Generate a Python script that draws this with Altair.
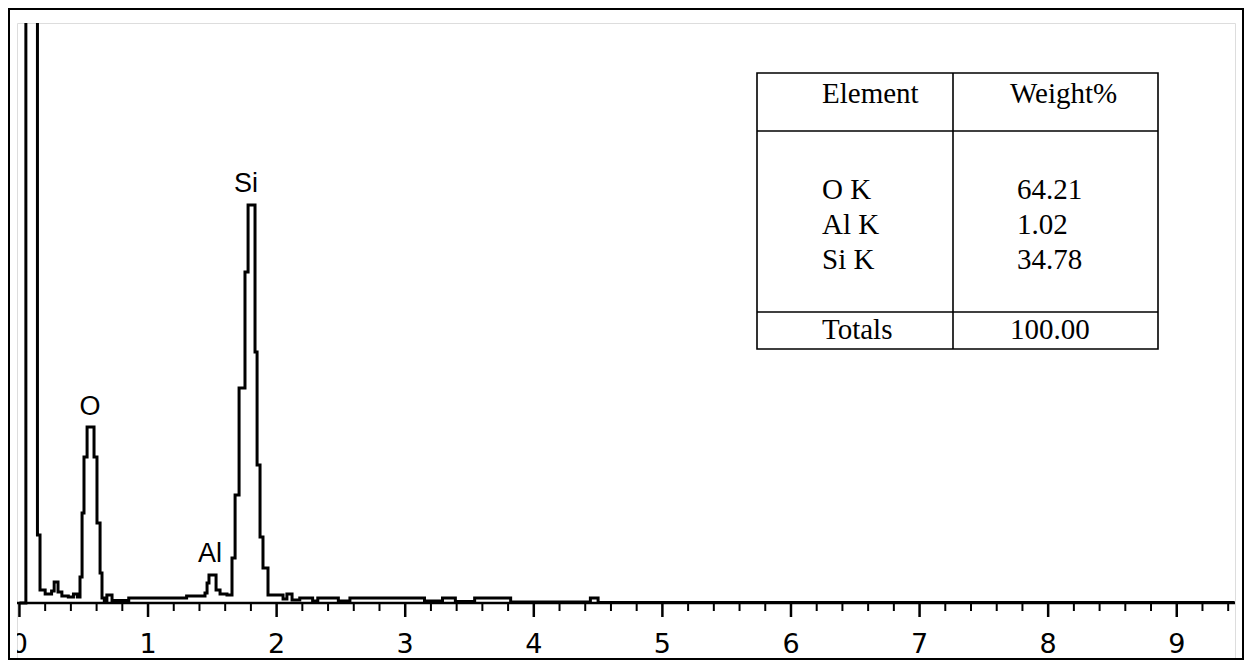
import altair as alt
import pandas as pd

# ---------------- data ----------------
# EDS spectrum drawn as a step outline: energy (keV) where a step starts, counts held until next step
energy = [0.00, 0.05, 0.14, 0.16, 0.20, 0.25, 0.27, 0.30, 0.33, 0.38, 0.42, 0.45,
          0.471, 0.487, 0.502, 0.526, 0.580, 0.603, 0.627, 0.642, 0.66, 0.68, 0.72,
          0.85, 1.30, 1.443, 1.459, 1.474, 1.529, 1.56, 1.614, 1.653, 1.677, 1.708,
          1.754, 1.778, 1.832, 1.848, 1.871, 1.894, 1.933, 2.05, 2.08, 2.12, 2.18,
          2.28, 2.32, 2.48, 2.57, 3.15, 3.29, 3.39, 3.54, 3.82, 4.44, 4.50, 9.45]
counts = [0, 3600, 340, 65, 45, 60, 105, 55, 35, 30, 45, 30,
          130, 450, 730, 880, 730, 400, 150, 25, 12, 40, 12,
          25, 35, 50, 100, 140, 65, 45, 40, 225, 540, 1075,
          1655, 1990, 1255, 690, 330, 175, 40, 20, 45, 15, 25,
          10, 25, 10, 25, 10, 25, 8, 25, 5, 25, 3, 3]

# peak annotations
peak_names = ["O", "Al", "Si"]
peak_energy = [0.549, 1.482, 1.762]
peak_height = [940, 205, 2055]

# energy axis
tick_major = [0, 1, 2, 3, 4, 5, 6, 7, 8, 9]
tick_labels = ["0", "1", "2", "3", "4", "5", "6", "7", "8", "9"]
tick_minor = [0.2, 0.4, 0.6, 0.8, 1.2, 1.4, 1.6, 1.8, 2.2, 2.4, 2.6, 2.8,
              3.2, 3.4, 3.6, 3.8, 4.2, 4.4, 4.6, 4.8, 5.2, 5.4, 5.6, 5.8,
              6.2, 6.4, 6.6, 6.8, 7.2, 7.4, 7.6, 7.8, 8.2, 8.4, 8.6, 8.8,
              9.2, 9.4]

# quantification table
tab_header = ["Element", "Weight%"]
tab_elements = ["O K", "Al K", "Si K"]
tab_weights = ["64.21", "1.02", "34.78"]
tab_total = ["Totals", "100.00"]

# ---------------- chart ----------------
XDOM = [-0.019, 9.453]
YDOM = [-280, 2900]
W, H = 1218, 636
BASE = 580  # pixel row of the energy axis inside the frame


def xs(field):
    return alt.X(field, scale=alt.Scale(domain=XDOM, nice=False, zero=False), axis=None)


def ys(field):
    return alt.Y(field, scale=alt.Scale(domain=YDOM, nice=False, zero=False), axis=None)


spec_df = pd.DataFrame({"energy": energy, "counts": counts})
spectrum = alt.Chart(spec_df).mark_line(
    interpolate="step-after", color="black", strokeWidth=3, clip=True
).encode(x=xs("energy:Q"), y=ys("counts:Q"))

one = pd.DataFrame({"a": [0]})

baseline = alt.Chart(one).mark_rule(color="black", strokeWidth=2.5).encode(
    x=alt.value(0), x2=alt.value(W), y=alt.value(BASE)
)

major_df = pd.DataFrame({"pos": tick_major, "lab": tick_labels})
minor_df = pd.DataFrame({"pos": tick_minor})

major_ticks = alt.Chart(major_df).mark_rule(color="black", strokeWidth=2.5).encode(
    x=xs("pos:Q"), y=alt.value(BASE), y2=alt.value(BASE + 14)
)
minor_ticks = alt.Chart(minor_df).mark_rule(color="black", strokeWidth=2).encode(
    x=xs("pos:Q"), y=alt.value(BASE), y2=alt.value(BASE + 8)
)
tick_text = alt.Chart(major_df).mark_text(
    font="DejaVu Sans", fontSize=27, color="black", baseline="middle", align="center", clip=True
).encode(x=xs("pos:Q"), y=alt.value(BASE + 42), text="lab:N")

peak_df = pd.DataFrame({"name": peak_names, "e": peak_energy, "h": peak_height})
peak_text = alt.Chart(peak_df).mark_text(
    font="Liberation Sans", fontSize=27, color="black", baseline="alphabetic", align="center"
).encode(x=xs("e:Q"), y=ys("h:Q"), text="name:N")

# outer frame (decoration around the whole figure)
outer = alt.Chart(one).mark_rect(fillOpacity=0, stroke="black", strokeWidth=2).encode(
    x=alt.value(-8), x2=alt.value(1226), y=alt.value(-14), y2=alt.value(H)
)

# table box and grid lines (pixel positions relative to the plot frame)
T_L, T_R, T_T, T_B = 740, 1141, 50, 326
T_H, T_C, T_S = 108, 936, 289
table_box = alt.Chart(one).mark_rect(fill="white", stroke="black", strokeWidth=1.6).encode(
    x=alt.value(T_L), x2=alt.value(T_R), y=alt.value(T_T), y2=alt.value(T_B)
)
table_lines = [
    alt.Chart(one).mark_rule(color="black", strokeWidth=1.6).encode(
        x=alt.value(T_C), y=alt.value(T_T), y2=alt.value(T_B)),
    alt.Chart(one).mark_rule(color="black", strokeWidth=1.6).encode(
        x=alt.value(T_L), x2=alt.value(T_R), y=alt.value(T_H)),
    alt.Chart(one).mark_rule(color="black", strokeWidth=1.6).encode(
        x=alt.value(T_L), x2=alt.value(T_R), y=alt.value(T_S)),
]


def ttext(txt, x, y):
    return alt.Chart(pd.DataFrame({"t": [txt]})).mark_text(
        font="Liberation Serif", fontSize=29, color="black", align="left", baseline="alphabetic"
    ).encode(text="t:N", x=alt.value(x), y=alt.value(y))


table_texts = [ttext(tab_header[0], 805, 80), ttext(tab_header[1], 993, 80)]
for i, (el, w) in enumerate(zip(tab_elements, tab_weights)):
    table_texts.append(ttext(el, 805, 176 + 35 * i))
    table_texts.append(ttext(w, 1000, 176 + 35 * i))
table_texts.append(ttext(tab_total[0], 805, 316))
table_texts.append(ttext(tab_total[1], 993, 316))

chart = alt.layer(
    outer, baseline, minor_ticks, major_ticks, spectrum, tick_text, peak_text,
    table_box, *table_lines, *table_texts
).properties(
    width=W, height=H,
    padding={"left": 9, "top": 15, "right": 10, "bottom": 1},
    autosize="none",
).configure_view(
    stroke="black", strokeWidth=2
).configure(background="white")

chart.save("out.html", embed_options={"renderer": "svg", "actions": False})
